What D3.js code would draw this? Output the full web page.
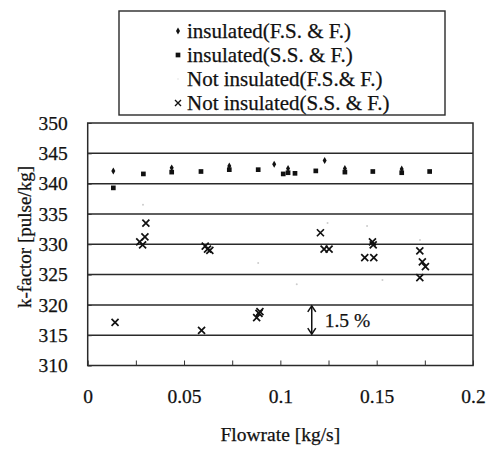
<!DOCTYPE html>
<html>
<head>
<meta charset="utf-8">
<script src="https://cdn.jsdelivr.net/npm/d3@7"></script>
<style>
  body { margin: 0; background: #fff; }
  svg text { font-family: "Liberation Serif", "DejaVu Serif", "Times New Roman", serif; fill: #111; stroke: #111; stroke-width: 0.25px; }
</style>
</head>
<body>
<div id="chart"></div>
<script>
// insulated, F.S. & F. (small diamonds)
const insFsX = [0.0133, 0.0436, 0.0735, 0.0968, 0.104, 0.123, 0.1335, 0.163];
const insFsY = [342.1, 342.6, 342.9, 343.2, 342.5, 343.8, 342.5, 342.4];
// insulated, S.S. & F. (small squares)
const insSsX = [0.0133, 0.0289, 0.0436, 0.0588, 0.0735, 0.0885, 0.1015, 0.104, 0.1076, 0.1184, 0.1335, 0.148, 0.163, 0.1775];
const insSsY = [339.3, 341.6, 341.9, 342.0, 342.3, 342.3, 341.6, 341.8, 341.7, 342.1, 341.9, 342.0, 341.8, 342.0];
// not insulated, F.S. & F. (faint, barely visible)
const notFsX = [0.0287, 0.0885, 0.1245, 0.145, 0.1085, 0.1725, 0.153];
const notFsY = [336.5, 326.9, 333.5, 333.0, 323.4, 330.7, 324.1];
// not insulated, S.S. & F. (crosses)
const notSsX = [0.0142, 0.027, 0.0285, 0.0297, 0.0302, 0.0591, 0.061, 0.0622, 0.0634, 0.0877, 0.0894, 0.0889,
  0.1208, 0.1227, 0.1253, 0.1438, 0.1478, 0.1482, 0.1485, 0.1724, 0.1737, 0.1753, 0.1724];
const notSsY = [317.1, 330.4, 329.9, 331.2, 333.5, 315.8, 329.7, 329.2, 329.0, 317.9, 318.9, 318.6,
  331.9, 329.2, 329.2, 327.8, 330.4, 329.9, 327.8, 328.9, 327.1, 326.3, 324.5];

const xTicks = [0, 0.05, 0.1, 0.15, 0.2];
const xMinorTicks = [0.025, 0.075, 0.125, 0.175];
const yTicks = [310, 315, 320, 325, 330, 335, 340, 345, 350];
const legendLabels = ['insulated(F.S. & F.)', 'insulated(S.S. & F.)', 'Not insulated(F.S.& F.)', 'Not insulated(S.S. & F.)'];
const bandLabel = '1.5 %';
const bandX = 0.1163;
const bandFrom = 320, bandTo = 315;

const W = 490, H = 449;
const margin = { top: 123, right: 17, bottom: 83.5, left: 87.7 };
const width = W - margin.left - margin.right;
const height = H - margin.top - margin.bottom;

const svg = d3.select('#chart').append('svg')
  .attr('width', W)
  .attr('height', H);

const g = svg.append('g')
  .attr('transform', 'translate(' + margin.left + ',' + margin.top + ')');

const x = d3.scaleLinear().domain([0, 0.2]).range([0, width]);
const y = d3.scaleLinear().domain([310, 350]).range([height, 0]);

// horizontal gridlines
g.selectAll('.grid')
  .data(yTicks.filter(d => d > 310 && d < 350))
  .enter()
  .append('line')
    .attr('x1', 0)
    .attr('x2', width)
    .attr('y1', d => y(d))
    .attr('y2', d => y(d))
    .attr('stroke', '#2a2a2a')
    .attr('stroke-width', 1.5);

// frame
g.append('rect')
  .attr('width', width)
  .attr('height', height)
  .attr('fill', 'none')
  .attr('stroke', '#2a2a2a')
  .attr('stroke-width', 1.5);

// axes
const xAxis = g.append('g')
  .attr('transform', 'translate(0,' + height + ')')
  .call(d3.axisBottom(x).tickValues(xTicks).tickSize(-5).tickPadding(24).tickFormat(d => d === 0 ? '0' : String(d)));
xAxis.append('g')
  .call(d3.axisBottom(x).tickValues(xMinorTicks).tickSize(-5).tickFormat(''));
xAxis.selectAll('.domain').remove();
xAxis.selectAll('line').attr('stroke', '#333');

const yAxis = g.append('g')
  .call(d3.axisLeft(y).tickValues(yTicks).tickSize(-4).tickPadding(20));
yAxis.select('.domain').remove();
yAxis.selectAll('line').attr('stroke', '#333');

svg.selectAll('.tick text')
  .style('font-size', '19.5px');

// axis titles
svg.append('text')
  .attr('x', margin.left + width / 2)
  .attr('y', 441)
  .attr('text-anchor', 'middle')
  .style('font-size', '19.5px')
  .text('Flowrate [kg/s]');

svg.append('text')
  .attr('transform', 'translate(31,237) rotate(-90)')
  .attr('text-anchor', 'middle')
  .style('font-size', '19px')
  .text('k-factor [pulse/kg]');

// 1.5 % band annotation
const arrow = g.append('g').attr('stroke', '#111').attr('stroke-width', 1.5).attr('fill', 'none');
arrow.append('line')
  .attr('x1', x(bandX)).attr('x2', x(bandX))
  .attr('y1', y(bandFrom) + 1).attr('y2', y(bandTo) - 1);
arrow.append('path')
  .attr('d', 'M' + (x(bandX) - 4) + ',' + (y(bandFrom) + 7) + 'L' + x(bandX) + ',' + (y(bandFrom) + 1) + 'L' + (x(bandX) + 4) + ',' + (y(bandFrom) + 7));
arrow.append('path')
  .attr('d', 'M' + (x(bandX) - 4) + ',' + (y(bandTo) - 7) + 'L' + x(bandX) + ',' + (y(bandTo) - 1) + 'L' + (x(bandX) + 4) + ',' + (y(bandTo) - 7));
g.append('text')
  .attr('x', x(bandX) + 13)
  .attr('y', (y(bandFrom) + y(bandTo)) / 2 + 7)
  .style('font-size', '19.5px')
  .text(bandLabel);

// markers
const diamond = d3.symbol().type(d3.symbolDiamond).size(14);
const square = d3.symbol().type(d3.symbolSquare).size(22);
const cross = (s) => 'M' + (-s) + ',' + (-s) + 'L' + s + ',' + s + 'M' + (-s) + ',' + s + 'L' + s + ',' + (-s);

g.selectAll('.nfs')
  .data(d3.zip(notFsX, notFsY))
  .enter()
  .append('circle')
    .attr('cx', d => x(d[0]))
    .attr('cy', d => y(d[1]))
    .attr('r', 1)
    .attr('fill', '#ccc');

g.selectAll('.ifs')
  .data(d3.zip(insFsX, insFsY))
  .enter()
  .append('path')
    .attr('d', diamond)
    .attr('transform', d => 'translate(' + x(d[0]) + ',' + y(d[1]) + ')')
    .attr('fill', '#111');

g.selectAll('.iss')
  .data(d3.zip(insSsX, insSsY))
  .enter()
  .append('path')
    .attr('d', square)
    .attr('transform', d => 'translate(' + x(d[0]) + ',' + y(d[1]) + ')')
    .attr('fill', '#111');

g.selectAll('.nss')
  .data(d3.zip(notSsX, notSsY))
  .enter()
  .append('path')
    .attr('d', cross(3.5))
    .attr('transform', d => 'translate(' + x(d[0]) + ',' + y(d[1]) + ')')
    .attr('stroke', '#111')
    .attr('stroke-width', 1.7)
    .attr('fill', 'none');

// legend
const legend = svg.append('g');
legend.append('rect')
  .attr('x', 119).attr('y', 11)
  .attr('width', 326).attr('height', 104)
  .attr('fill', '#fff')
  .attr('stroke', '#2a2a2a')
  .attr('stroke-width', 1.4);

const rowY = [31, 55, 79, 103];
const textX = 187, markX = 178;
legendLabels.forEach((label, i) => {
  const row = legend.append('g');
  row.append('text')
    .attr('x', textX)
    .attr('y', rowY[i] + 7)
    .style('font-size', '21px')
    .text(label);
  if (i === 0) {
    row.append('path').attr('d', diamond).attr('transform', 'translate(' + markX + ',' + rowY[i] + ')').attr('fill', '#111');
  } else if (i === 1) {
    row.append('path').attr('d', square).attr('transform', 'translate(' + markX + ',' + rowY[i] + ')').attr('fill', '#111');
  } else if (i === 2) {
    row.append('circle').attr('cx', markX).attr('cy', rowY[i]).attr('r', 1).attr('fill', '#eee');
  } else {
    row.append('path').attr('d', cross(3)).attr('transform', 'translate(' + markX + ',' + rowY[i] + ')')
      .attr('stroke', '#111').attr('stroke-width', 1.4).attr('fill', 'none');
  }
});
</script>
</body>
</html>
